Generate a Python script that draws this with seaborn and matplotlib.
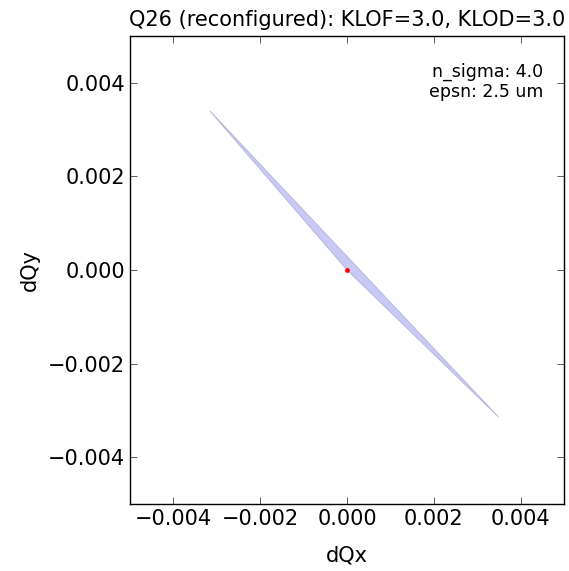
import matplotlib
matplotlib.use("Agg")
import matplotlib.pyplot as plt
import seaborn as sns
import pandas as pd

# Footprint outline (dQx, dQy) and zero-amplitude point
footprint_dqx = [0.0, -0.00316, 0.00349]
footprint_dqy = [0.0, 0.00340, -0.00314]
center_dqx = [0.0]
center_dqy = [0.0]

title = "Q26 (reconfigured): KLOF=3.0, KLOD=3.0"
info_text = "n_sigma: 4.0\nepsn: 2.5 um"
ticks = [-0.004, -0.002, 0.000, 0.002, 0.004]

sns.set_style("ticks", {"xtick.direction": "in", "ytick.direction": "in",
                        "xtick.top": True, "ytick.right": True,
                        "axes.edgecolor": "black", "text.color": "black",
                        "axes.labelcolor": "black", "xtick.color": "black",
                        "ytick.color": "black"})
plt.rcParams['font.family'] = ['DejaVu Sans']

fig = plt.figure(figsize=(5.69, 5.71), dpi=100)
ax = fig.add_axes([130 / 569, 1 - 504 / 571, (564 - 130) / 569, (504 - 36) / 571])

ax.fill(footprint_dqx, footprint_dqy, facecolor="#c9c9f6", edgecolor="#b4b4dc", linewidth=0.6)
df = pd.DataFrame({"dQx": center_dqx, "dQy": center_dqy})
sns.scatterplot(data=df, x="dQx", y="dQy", color="red", s=12, edgecolor="red", linewidth=0, ax=ax, zorder=3)

ax.set_xlim(-0.005, 0.005)
ax.set_ylim(-0.005, 0.005)
ax.set_xticks(ticks)
ax.set_yticks(ticks)
ax.tick_params(axis="both", which="major", labelsize=15, length=5, width=0.6,
               top=True, right=True, direction="in", color="#444444",
               labelcolor="black")
for sp in ax.spines.values():
    sp.set_linewidth(1.0)
    sp.set_color("black")

ax.set_xlabel("dQx", fontsize=15, labelpad=12, color="black")
ax.set_ylabel("dQy", fontsize=15, labelpad=6, color="black")
ax.set_title(title, fontsize=15, pad=7, color="black")
ax.text(0.952, 0.942, info_text, transform=ax.transAxes, ha="right", va="top",
        fontsize=12.5, linespacing=1.1, color="black")

fig.savefig("out.png", dpi=100)
